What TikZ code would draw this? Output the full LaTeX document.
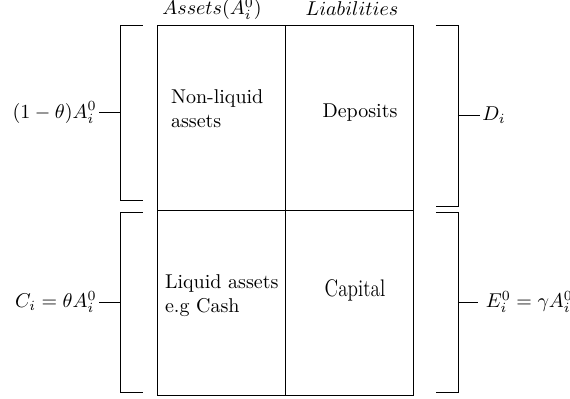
\documentclass[tikz,border=0pt]{standalone}
\usepackage{amsmath,amssymb}
\usetikzlibrary{positioning}
\begin{document}
\begin{tikzpicture}[x=0.5pt,y=-0.5pt,node distance=92.5pt and 64pt,on grid]
    \tikzset{cell/.style={draw,rectangle,minimum width=64pt,minimum height=92.5pt,inner sep=0pt}}
    \tikzset{lbl/.style={inner sep=1pt}}
    \useasboundingbox (0,0) rectangle (570,398);
    \node[cell] (na) at (221,117.5) {};
    \node[cell] (dep) [right = of na] {};
    \node[cell] (la) [below = of na] {};
    \node[cell] (cap) [below = of dep] {};
    \node (assets) at (212,9) {$Assets(A_i^0)$};
    \node (liab) at (352,9) {$Liabilities$};
    \node[align=left,anchor=west] (nltext) at (164,109) {Non-liquid\\assets};
    \node (deptext) at (360,113) {Deposits};
    \node[align=left,anchor=west] (latext) at (158,296) {Liquid assets\\e.g Cash};
    \node[font=\large,xscale=0.8,transform shape] (captext) at (355,290) {Capital};
    \draw (143,25) -| (120,200) -- (143,200);
    \draw (143,212) -| (120,392) -- (143,392);
    \draw (436,25) -| (458,206) -- (436,206);
    \draw (436,212) -| (458,392) -- (436,392);
    \coordinate (bl1) at (120,112.5);
    \coordinate (bl2) at (120,302);
    \coordinate (br1) at (458,115.5);
    \coordinate (br2) at (458,302);
    \node[lbl,anchor=east] (nlval) at (99,112.5) {$(1-\theta)A_i^0$};
    \node[lbl,anchor=east] (cval) at (99,302) {$C_i=\theta A_i^0$};
    \node[lbl,anchor=west] (dval) at (480,115.5) {$D_i$};
    \node[lbl,anchor=west] (eqval) at (478,302) {$\;E_i^0=\gamma A_i^0$};
    \draw (bl1) -- (nlval);
    \draw (bl2) -- (cval);
    \draw (br1) -- (dval);
    \draw (br2) -- (eqval);
\end{tikzpicture}
\end{document}
